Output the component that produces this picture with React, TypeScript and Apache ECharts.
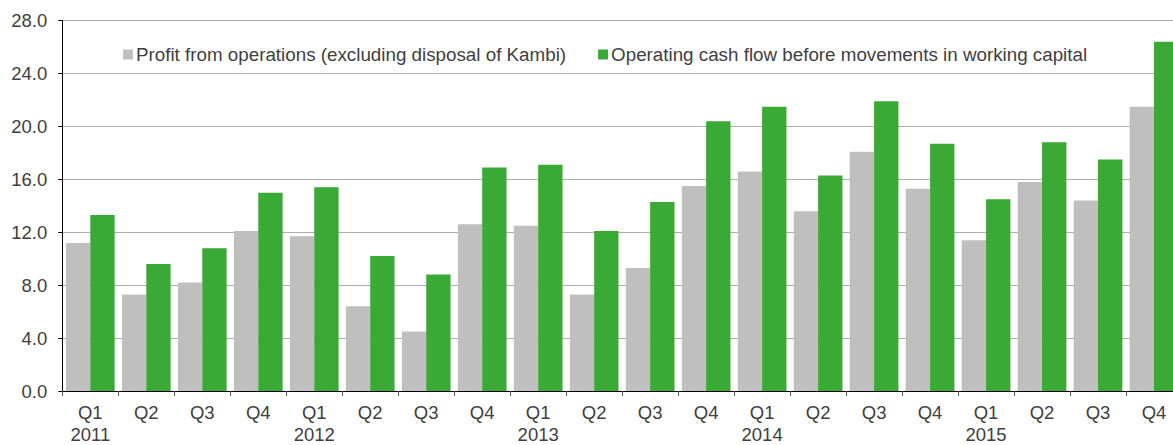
import React, { useEffect, useRef } from "react";
import * as echarts from "echarts";

const quarters = [
  "Q1", "Q2", "Q3", "Q4",
  "Q1", "Q2", "Q3", "Q4",
  "Q1", "Q2", "Q3", "Q4",
  "Q1", "Q2", "Q3", "Q4",
  "Q1", "Q2", "Q3", "Q4",
];
const years = [
  "2011", "", "", "",
  "2012", "", "", "",
  "2013", "", "", "",
  "2014", "", "", "",
  "2015", "", "", "",
];
const profitFromOperations = [
  11.2, 7.3, 8.2, 12.1,
  11.7, 6.4, 4.5, 12.6,
  12.5, 7.3, 9.3, 15.5,
  16.6, 13.6, 18.1, 15.3,
  11.4, 15.8, 14.4, 21.5,
];
const operatingCashFlow = [
  13.3, 9.6, 10.8, 15.0,
  15.4, 10.2, 8.8, 16.9,
  17.1, 12.1, 14.3, 20.4,
  21.5, 16.3, 21.9, 18.7,
  14.5, 18.8, 17.5, 26.4,
];
const seriesNames = [
  "Profit from operations (excluding disposal of Kambi)",
  "Operating cash flow before movements in working capital",
];
const yTicks = { min: 0, max: 28, interval: 4 };

const FONT = "'Liberation Sans', Arial, sans-serif";
const TEXT = "#404040";

export default function App() {
  const ref = useRef<HTMLDivElement>(null);
  useEffect(() => {
    if (!ref.current) return;
    const chart = echarts.init(ref.current, undefined, { renderer: "svg" });
    const categories = quarters.map((q, i) => (years[i] ? `${q}\n${years[i]}` : q));
    chart.setOption({
      animation: false,
      textStyle: { fontFamily: FONT },
      legend: {
        left: 118,
        top: 40,
        itemWidth: 10,
        itemHeight: 10,
        itemGap: 32,
        icon: "rect",
        textStyle: { fontFamily: FONT, fontSize: 18.8, color: TEXT, padding: [0, 0, 0, -2] },
        data: seriesNames,
      },
      grid: { left: 62.3, top: 20.7, bottom: 48.5, right: 0, containLabel: false },
      xAxis: {
        type: "category",
        data: categories,
        axisLine: { show: true, lineStyle: { color: "#000", width: 1 } },
        axisTick: { show: true, length: 5, alignWithLabel: false, lineStyle: { color: "#555" } },
        axisLabel: {
          fontFamily: FONT,
          fontSize: 18.5,
          color: TEXT,
          lineHeight: 22,
          margin: 10,
          interval: 0,
        },
        splitLine: { show: false },
      },
      yAxis: {
        type: "value",
        min: yTicks.min,
        max: yTicks.max,
        interval: yTicks.interval,
        axisLine: { show: true, lineStyle: { color: "#000", width: 1 } },
        axisTick: { show: true, length: 4, lineStyle: { color: "#000" } },
        axisLabel: {
          fontFamily: FONT,
          fontSize: 18.5,
          color: TEXT,
          margin: 15,
          formatter: (v: number) => v.toFixed(1),
        },
        splitLine: { show: true, lineStyle: { color: "#adadad", width: 1 } },
      },
      series: [
        {
          name: seriesNames[0],
          type: "bar",
          data: profitFromOperations,
          itemStyle: { color: "#bfbfbf" },
          barGap: "0%",
          barCategoryGap: "13%",
        },
        {
          name: seriesNames[1],
          type: "bar",
          data: operatingCashFlow,
          itemStyle: { color: "#3aa935" },
          barGap: "0%",
          barCategoryGap: "13%",
        },
      ],
    });
    return () => chart.dispose();
  }, []);
  return (
    <div style={{ position: "fixed", left: 0, top: 0, width: 1173, height: 445, overflow: "hidden", background: "#fff" }}>
      <div ref={ref} style={{ width: 1182, height: 445 }} />
    </div>
  );
}
